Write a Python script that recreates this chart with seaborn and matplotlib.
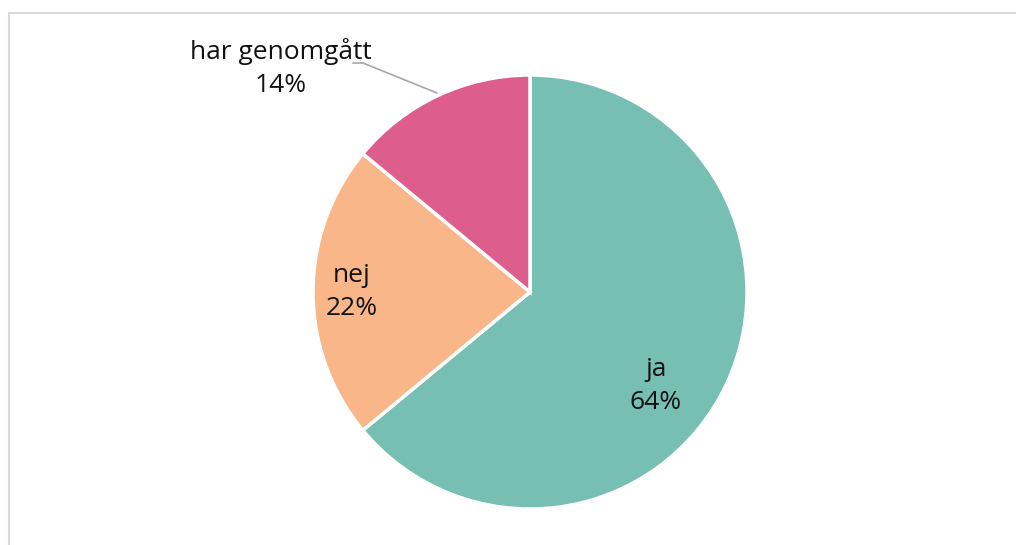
import matplotlib.pyplot as plt
import seaborn as sns

labels = ["ja", "nej", "har genomgått"]
shares = [64, 22, 14]
colors = ["#76BFB2", "#F9B688", "#DD5E8D"]

sns.set_theme(style="white")
plt.rcParams["font.family"] = ["Open Sans", "DejaVu Sans"]

fig = plt.figure(figsize=(10.16, 5.45), dpi=100)
ax = fig.add_axes([0, 0, 1, 1])

ax.pie(shares, colors=sns.color_palette(colors), startangle=90, counterclock=False,
       center=(530, 253), radius=217, frame=True,
       wedgeprops=dict(edgecolor="white", linewidth=2.5))
ax.set_xlim(0, 1016)
ax.set_ylim(0, 545)
ax.set_aspect("equal")
ax.axis("off")

# chart frame (only top and left edges visible in the crop)
ax.plot([9, 1016], [532, 532], color="#D9D9D9", lw=1.5)
ax.plot([9, 9], [0, 532], color="#D9D9D9", lw=1.5)

def lab(i):
    return f"{labels[i]}\n{shares[i]}%"

kw = dict(ha="center", va="center", fontsize=19, color="#111111", linespacing=1.4)
ax.text(656, 159, lab(0), **kw)
ax.text(352, 253, lab(1), **kw)
ax.text(281, 477, lab(2), **kw)
ax.plot([353, 363, 437], [482, 482, 452], color="#A6A6A6", lw=1.2)

fig.savefig("out.png", dpi=100)
